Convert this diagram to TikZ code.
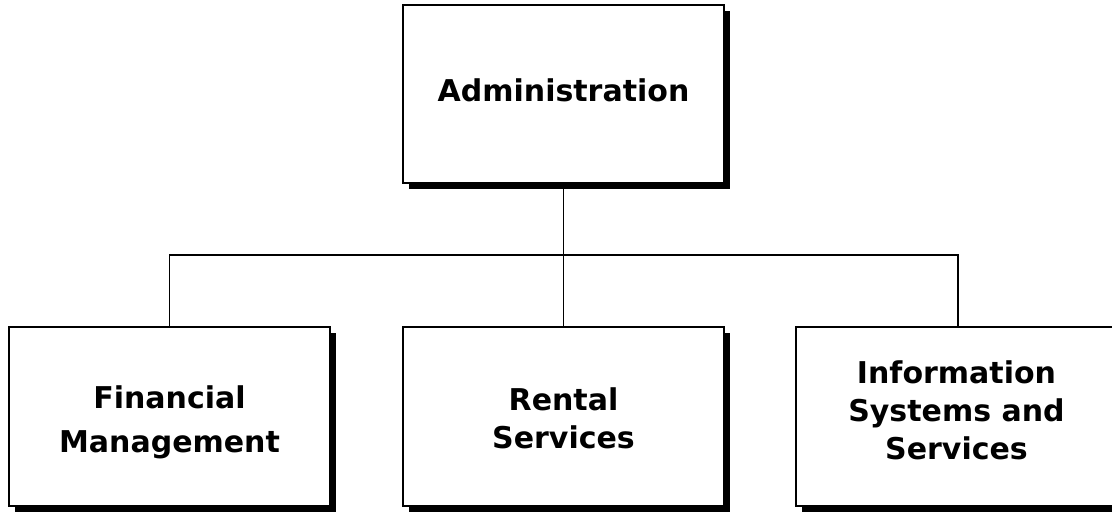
\documentclass[tikz,border=0pt]{standalone}
\usepackage{fontspec}
\setmainfont{DejaVu Sans}
\usetikzlibrary{shadows}
\begin{document}
\begin{tikzpicture}[x=1pt,y=-1pt,
  orgbox/.style={draw=black, line width=2.2pt, fill=white,
    minimum width=321pt, minimum height=179pt, inner sep=0pt, outer sep=0pt,
    anchor=north west,
    drop shadow={shadow xshift=6pt, shadow yshift=-6pt, fill=black, opacity=1}},
  orgtext/.style={align=center, inner sep=0pt, anchor=center},
  link/.style={draw=black, line width=1.9pt}]
\useasboundingbox (0,0) rectangle (1112,512);
\clip (0,0) rectangle (1112,512);
\coordinate (bus) at (563.5,255);
\node[orgbox, minimum height=178pt] (adm) at (403,5) {};
\node[orgbox] (fin) at (9,327) {};
\node[orgbox] (ren) at (403,327) {};
\node[orgbox] (inf) at (796,327) {};
\node[orgtext, font=\fontsize{30}{36}\selectfont\bfseries] (admT) at ([yshift=4pt]adm.center) {Administration};
\node[orgtext, font=\fontsize{30}{44}\selectfont\bfseries] (finT) at ([yshift=-6pt]fin.center) {Financial\\Management};
\node[orgtext, font=\fontsize{30}{38}\selectfont\bfseries] (renT) at ([yshift=-1.5pt]ren.center) {Rental\\Services};
\node[orgtext, font=\fontsize{30}{38}\selectfont\bfseries] (infT) at ([yshift=6.5pt]inf.center) {Information\\Systems and\\Services};
\draw[link] (adm.south) -- (ren.north);
\draw[link] (fin.north) -- (fin.north |- bus) -- ([xshift=1.5pt]inf.north |- bus) -- ([xshift=1.5pt]inf.north);
\end{tikzpicture}
\end{document}
